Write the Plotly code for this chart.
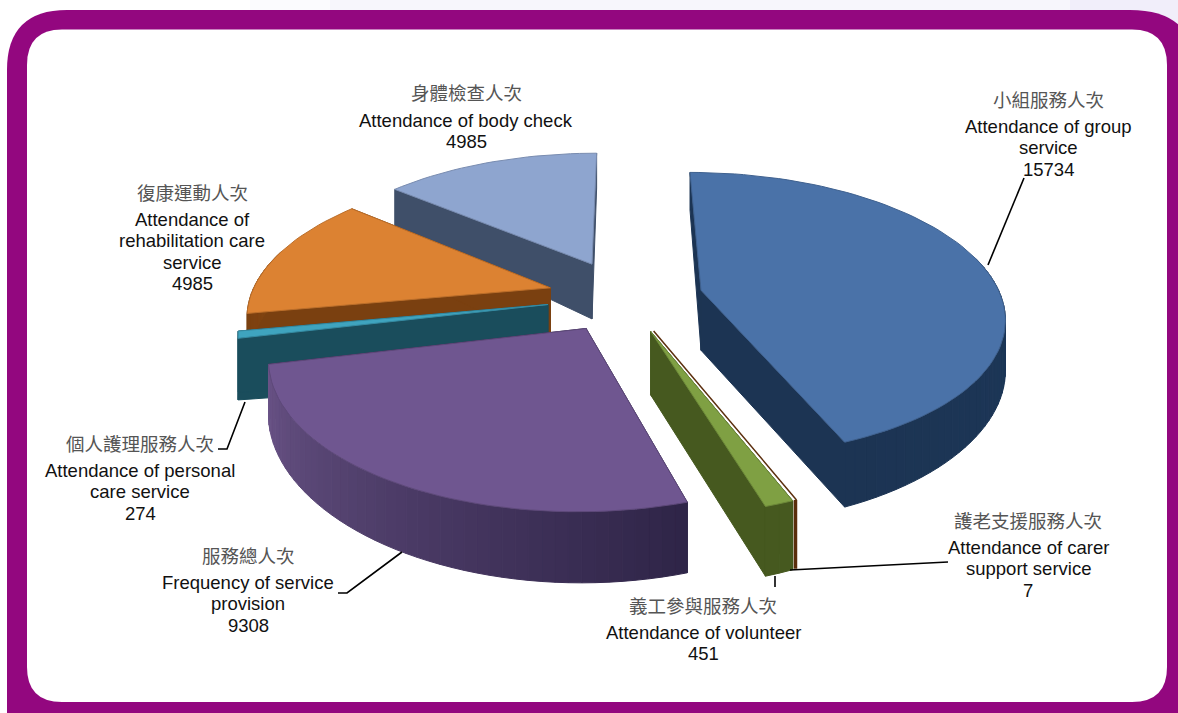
import math
import plotly.graph_objects as go

# values as printed on the chart, clockwise from 12 o'clock
names_zh = ["小組服務人次", "護老支援服務人次", "義工參與服務人次", "服務總人次",
            "個人護理服務人次", "復康運動人次", "身體檢查人次"]
names_en = [["Attendance of group", "service"],
            ["Attendance of carer", "support service"],
            ["Attendance of volunteer"],
            ["Frequency of service", "provision"],
            ["Attendance of personal", "care service"],
            ["Attendance of", "rehabilitation care", "service"],
            ["Attendance of body check"]]
values = [15734, 7, 451, 9308, 274, 4985, 4985]

# styling per slice
pulls = [0.26, 0.25, 0.25, 0.25, 0.26, 0.26, 0.27]
heights = [1, 1, 1, 1, 1.2, 1, 1]
top_colors = ["#4a72a8", "#5a2d0c", "#7fa043", "#6f5690", "#3fa4bf", "#dc8232", "#8ea5cf"]
face_colors = ["#1c3453", "#5a2d0c", "#46591f", "#2f2548", "#1a4d5c", "#7a4010", "#3f4f69"]
wall_start = ["#1d3a5e", "#5a2d0c", "#46591f", "#2f2548", "#1a4d5c", "#7a4010", "#3f4f69"]
wall_end = ["#1c3453", "#5a2d0c", "#46591f", "#6b5488", "#1a4d5c", "#8a4a14", "#3f4f69"]

# label positions: centre x, y of chinese line, y of first english line
label_x = [1048, 1028, 703, 248, 140, 192, 466]
label_zh_y = [99, 520, 605, 555, 443, 192, 92]
label_en_y = [126, 547, 632, 582, 470, 219, 120]

leaders = [[(1024, 178), (988, 265)],
           [(948, 562), (790, 570)],
           [(775, 587), (775, 576)],
           [(338, 593), (347, 593), (402, 552)],
           [(218, 449), (227, 449), (245, 402)]]

# projection of the tilted pie
CX, CY = 625, 297
RX, RY = 300, 140
PERSP = 0.17
DEPTH = 62


def project(wx, wy, z=0.0):
    s = 1 / (1 + PERSP * wy)
    d = s ** 0.6 if s > 1 else s ** 3
    d *= 1 - 0.13 * wx * wx
    return CX + RX * wx * s, CY - RY * wy * s + z * DEPTH * d


def mix(c1, c2, t):
    a = [int(c1[i:i + 2], 16) for i in (1, 3, 5)]
    b = [int(c2[i:i + 2], 16) for i in (1, 3, 5)]
    return "#%02x%02x%02x" % tuple(round(p + (q - p) * t) for p, q in zip(a, b))


def polygon(fig, pts, color, line=None, width=1):
    fig.add_trace(go.Scatter(
        x=[p[0] for p in pts] + [pts[0][0]], y=[p[1] for p in pts] + [pts[0][1]],
        mode="lines", fill="toself", fillcolor=color,
        line=dict(color=line or color, width=width), hoverinfo="skip", showlegend=False))


def slice_geometry(i):
    a0, a1 = angles[i]
    mid = math.radians((a0 + a1) / 2)
    ox, oy = pulls[i] * math.sin(mid), pulls[i] * math.cos(mid)
    n = max(1, int((a1 - a0) / 2))
    thetas = [math.radians(a0 + (a1 - a0) * k / n) for k in range(n + 1)]
    rim = [(ox + math.sin(t), oy + math.cos(t)) for t in thetas]
    return ox, oy, n, thetas, rim


fig = go.Figure()

# slice angles
total = sum(values)
angles = []
a = 0.0
for v in values:
    angles.append((a, a + 360.0 * v / total))
    a += 360.0 * v / total

# far slices first so nearer ones cover them
order = [6, 0, 5, 4, 3, 2]
for i in order:
    ox, oy, n, thetas, rim = slice_geometry(i)
    h = heights[i]

    # cut faces
    for p in (rim[0], rim[-1]):
        polygon(fig, [project(ox, oy), project(*p), project(p[0], p[1], h), project(ox, oy, h)],
                face_colors[i])
    # outer wall, only the part turned to the viewer
    for k in range(n):
        if math.cos(thetas[k]) > 0.25:
            continue
        col = mix(wall_start[i], wall_end[i], k / n)
        polygon(fig, [project(*rim[k]), project(*rim[k + 1]),
                      project(rim[k + 1][0], rim[k + 1][1], h), project(rim[k][0], rim[k][1], h)], col)
    # top
    polygon(fig, [project(ox, oy)] + [project(*p) for p in rim], top_colors[i],
            line=mix(top_colors[i], "#000000", 0.15), width=1)

# the carer slice is too thin to fill, so it shows as a brown edge on the volunteer slice
ox, oy, n, thetas, rim = slice_geometry(1)
fig.add_trace(go.Scatter(x=[project(ox, oy)[0], project(*rim[0])[0]],
                         y=[project(ox, oy)[1], project(*rim[0])[1]], mode="lines",
                         line=dict(color=top_colors[1], width=1.5), hoverinfo="skip", showlegend=False))
fig.add_trace(go.Scatter(x=[project(*rim[0])[0] - 1, project(rim[0][0], rim[0][1], 1)[0] - 1],
                         y=[project(*rim[0])[1], project(rim[0][0], rim[0][1], 1)[1]], mode="lines",
                         line=dict(color=top_colors[1], width=3.5), hoverinfo="skip", showlegend=False))

# leader lines
for pts in leaders:
    fig.add_trace(go.Scatter(x=[p[0] for p in pts], y=[p[1] for p in pts], mode="lines",
                             line=dict(color="#000000", width=1.6), hoverinfo="skip", showlegend=False))

# labels
for i in range(len(values)):
    fig.add_annotation(x=label_x[i], y=label_zh_y[i], text=names_zh[i], showarrow=False,
                       font=dict(family="Noto Sans CJK TC", size=18.5, color="#555555"))
    lines = names_en[i] + [str(values[i])]
    for k, line in enumerate(lines):
        fig.add_annotation(x=label_x[i], y=label_en_y[i] + k * 21.5, text=line, showarrow=False,
                           font=dict(family="Liberation Sans", size=18.5, color="#111111"))

# purple frame behind everything
frame = "M 7 70 Q 7 10 67 10 L 1130 10 Q 1195 10 1195 70 L 1195 730 L 7 730 Z"
inner = "M 27 65 Q 27 29.5 62 29.5 L 1132 29.5 Q 1167 29.5 1167 65 L 1167 667 Q 1167 702 1132 702 L 62 702 Q 27 702 27 667 Z"
shapes = [
    dict(type="rect", x0=250, x1=330, y0=0, y1=10, fillcolor="#fbfbfe", line_width=0, layer="below"),
    dict(type="rect", x0=330, x1=1178, y0=0, y1=10, fillcolor="#f7f6fc", line_width=0, layer="below"),
    dict(type="rect", x0=1070, x1=1178, y0=0, y1=60, fillcolor="#f1eefa", line_width=0, layer="below"),
    dict(type="path", path=frame, fillcolor="#93077f", line_width=0, layer="below"),
    dict(type="path", path=inner, fillcolor="#ffffff", line_width=0, layer="below"),
]

fig.update_layout(
    width=1178, height=713, margin=dict(l=0, r=0, t=0, b=0),
    paper_bgcolor="#ffffff", plot_bgcolor="#ffffff", shapes=shapes, showlegend=False,
    xaxis=dict(range=[0, 1178], visible=False, fixedrange=True),
    yaxis=dict(range=[713, 0], visible=False, fixedrange=True),
)

fig.write_html("out.html", config={"displayModeBar": False},
               post_script="document.body.style.margin='0';")
